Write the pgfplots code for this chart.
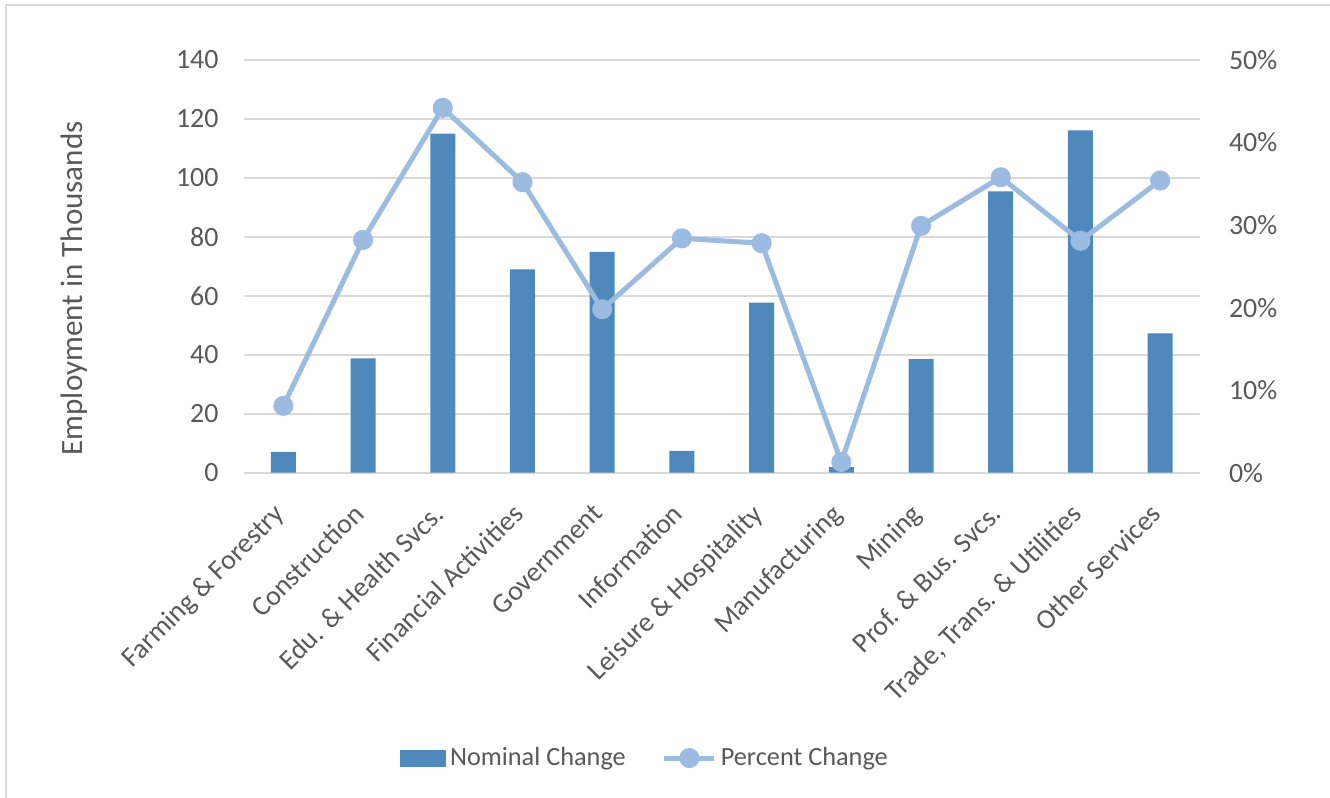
\documentclass[border=0pt]{standalone}
\usepackage{fontspec}
\setmainfont{Carlito}
\usepackage{pgfplots}
\pgfplotsset{compat=1.18}

\definecolor{barblue}{RGB}{79,136,187}
\definecolor{lineblue}{RGB}{155,187,224}
\definecolor{gridgray}{RGB}{217,217,217}
\definecolor{textgray}{RGB}{89,89,89}
\newcommand\chartfont{\fontsize{14}{16.8}\selectfont}
\newcommand\titlefont{\fontsize{15.6}{18.7}\selectfont}
\newcommand\legendfont{\fontsize{13.2}{15.8}\selectfont}

% Employment change by industry
\pgfplotstableread{
idx nominal percent
0   7.1    8.1
1   38.8   28.2
2   115.0  44.2
3   69.0   35.2
4   74.9   19.8
5   7.4    28.4
6   57.7   27.8
7   1.9    1.3
8   38.5   29.9
9   95.4   35.8
10  116.1  28.1
11  47.3   35.4
}\employment

\tikzset{
  pctline/.style={lineblue, line width=2.5bp, mark=*, mark size=3.75bp,
    mark options={fill=lineblue, draw=lineblue}},
}
\pgfplotsset{
  common/.style={
    at={(121.75bp,-236.35bp)}, anchor=south west,
    scale only axis, width=478.25bp, height=206.35bp,
    xmin=-0.5, xmax=11.5,
    axis line style={draw=none},
    major tick length=0pt,
    tick label style={font=\chartfont, text=textgray},
    /pgf/number format/assume math mode=true,
    clip=false,
  },
}

\begin{document}
\begin{tikzpicture}
\path[use as bounding box] (0bp,0bp) rectangle (665bp,-399bp);
\draw[gridgray, line width=0.9bp] (3bp,-2.5bp) rectangle (700bp,-420bp);

\begin{axis}[
  common,
  ymin=0, ymax=140, ytick={0,20,...,140},
  ymajorgrids, grid style={gridgray, line width=1bp},
  yticklabel style={xshift=-9bp},
  xtick={0,...,11},
  xticklabels={Farming \& Forestry, Construction, Edu. \& Health Svcs.,
    Financial Activities, Government, Information, Leisure \& Hospitality,
    Manufacturing, Mining, Prof. \& Bus. Svcs., {Trade, Trans. \& Utilities},
    Other Services},
  xticklabel style={rotate=45, anchor=north east, inner sep=2bp,
    xshift=-12.3bp, yshift=-4.3bp},
  ylabel={Employment in Thousands},
  every axis y label/.style={at={(rel axis cs:0,0.5)}, xshift=-84.5bp, yshift=-11bp,
    rotate=90, anchor=center, font=\titlefont, text=textgray},
  legend columns=2,
  legend style={at={(rel axis cs:0.4207,-0.6913)}, anchor=center, draw=none,
    font=\legendfont, text=textgray, inner sep=0pt,
    /tikz/every even column/.append style={column sep=16bp}},
  legend cell align=left,
]
\addplot[ybar, bar width=12.5bp, fill=barblue, draw=none,
  legend image code/.code={\fill[barblue] (0bp,-4.25bp) rectangle (23bp,4.25bp);}]
  table[x=idx, y=nominal] {\employment};
\addlegendentry{Nominal Change}
\addlegendimage{pctline,
  legend image code/.code={\draw[mark repeat=2, mark phase=2, pctline]
    plot coordinates {(0bp,0bp) (12.5bp,0bp) (25bp,0bp)};}}
\addlegendentry{Percent Change}
\end{axis}

\begin{axis}[
  common,
  ymin=0, ymax=50, ytick={0,10,...,50},
  axis y line*=right, axis x line=none,
  yticklabel={\pgfmathprintnumber{\tick}\%},
  yticklabel style={xshift=11bp, anchor=west},
]
\addplot[pctline] table[x=idx, y=percent] {\employment};
\end{axis}
\end{tikzpicture}
\end{document}
